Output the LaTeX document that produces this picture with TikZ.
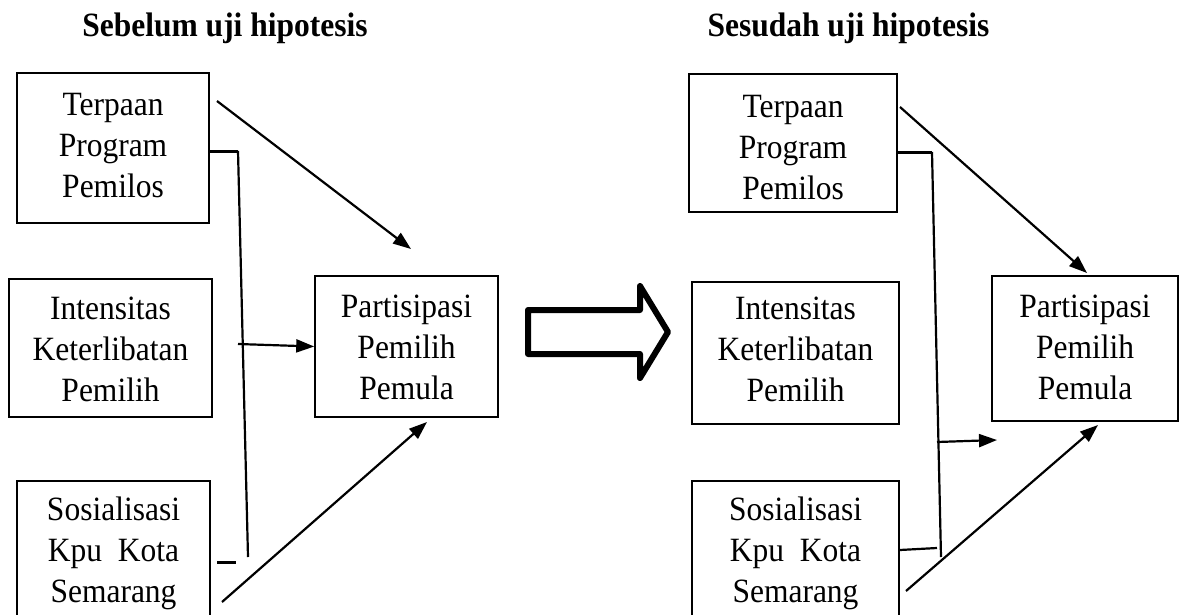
\documentclass[tikz,border=0pt]{standalone}
\usepackage{fontspec}
\usepackage{graphicx}
\setmainfont{Liberation Serif}
\usetikzlibrary{arrows.meta,calc}
\newcommand{\vtext}[1]{\scalebox{1}[1.08]{\begin{tabular}{@{}c@{}}#1\end{tabular}}}
\begin{document}
\begin{tikzpicture}[x=1pt,y=-1pt,
  box/.style={draw,line width=1.6pt,inner sep=0pt},
  txt/.style={inner sep=0pt,font=\fontsize{31.5}{38}\selectfont},
  conn/.style={line width=2.2pt},
  thickconn/.style={line width=3pt},
  arr/.style={conn,-{Triangle[length=18pt,width=13pt]}},
  ttl/.style={font=\fontsize{31.5}{38}\selectfont\bfseries,anchor=base,inner sep=0pt}]
\useasboundingbox (0,0) rectangle (1184,614);
% titles
\node[ttl] (t1) at (225,36) {\scalebox{1}[1.08]{Sebelum uji hipotesis}};
\node[ttl] (t2) at (848.5,36) {\scalebox{1}[1.08]{Sesudah uji hipotesis}};
% left boxes
\node[box,minimum width=192pt,minimum height=150pt] (T1) at (113,148) {};
\node[box,minimum width=203pt,minimum height=138pt] (I1) at (110.5,348) {};
\node[box,minimum width=193pt,minimum height=144pt] (S1) at (113.5,553) {};
\node[box,minimum width=183pt,minimum height=141pt] (P1) at (406.5,346.5) {};
\node[txt] (T1t) at ($(T1.center)+(0,0)$) {\vtext{Terpaan\\Program\\Pemilos}};
\node[txt] (I1t) at ($(I1.center)+(0,4)$) {\vtext{Intensitas\\Keterlibatan\\Pemilih}};
\node[txt] (S1t) at ($(S1.center)+(0,0)$) {\vtext{Sosialisasi\\Kpu~~Kota\\Semarang}};
\node[txt] (P1t) at ($(P1.center)+(0,4)$) {\vtext{Partisipasi\\Pemilih\\Pemula}};
% right boxes
\node[box,minimum width=208pt,minimum height=138pt] (T2) at (793,143) {};
\node[box,minimum width=207pt,minimum height=142pt] (I2) at (795.5,353) {};
\node[box,minimum width=207pt,minimum height=144pt] (S2) at (795.5,553) {};
\node[box,minimum width=186pt,minimum height=145pt] (P2) at (1085,348.5) {};
\node[txt] (T2t) at ($(T2.center)+(0,7)$) {\vtext{Terpaan\\Program\\Pemilos}};
\node[txt] (I2t) at ($(I2.center)+(0,-1)$) {\vtext{Intensitas\\Keterlibatan\\Pemilih}};
\node[txt] (S2t) at ($(S2.center)+(0,0)$) {\vtext{Sosialisasi\\Kpu~~Kota\\Semarang}};
\node[txt] (P2t) at ($(P2.center)+(0,2)$) {\vtext{Partisipasi\\Pemilih\\Pemula}};
% big hollow arrow
\draw[line width=6pt,line join=round] (528,310) -- (640,310) -- (640,286) -- (668,332) -- (640,378) -- (640,354) -- (528,354) -- cycle;
% left connectors
\coordinate (a1s) at (217,101);
\coordinate (a1e) at (411,249);
\draw[arr] (a1s) -- (a1e);
\coordinate (b1s) at (T1.east |- 0,151);
\coordinate (b1c) at (238,151);
\coordinate (b1e) at (248,557);
\draw[thickconn] (b1s) -- (b1c);
\draw[conn] (b1c) -- (b1e);
\coordinate (d1s) at (217,562);
\coordinate (d1e) at (236,562);
\draw[thickconn] (d1s) -- (d1e);
\coordinate (h1s) at (238,344);
\draw[arr] (h1s) -- (P1.west);
\coordinate (s1s) at (222,602);
\coordinate (s1e) at (427,422);
\draw[arr] (s1s) -- (s1e);
% right connectors
\coordinate (a2s) at (900,107);
\coordinate (a2e) at (1087,273);
\draw[arr] (a2s) -- (a2e);
\coordinate (b2s) at (T2.east |- 0,152);
\coordinate (b2c) at (932,152);
\coordinate (b2e) at (941,557);
\draw[thickconn] (b2s) -- (b2c);
\draw[conn] (b2c) -- (b2e);
\coordinate (h2s) at (937,442);
\coordinate (h2e) at (997,440);
\draw[arr] (h2s) -- (h2e);
\coordinate (l2s) at (S2.east |- 0,550);
\coordinate (l2e) at (937,548);
\draw[conn] (l2s) -- (l2e);
\coordinate (s2s) at (906,591);
\coordinate (s2e) at (1098,425);
\draw[arr] (s2s) -- (s2e);
\end{tikzpicture}
\end{document}
